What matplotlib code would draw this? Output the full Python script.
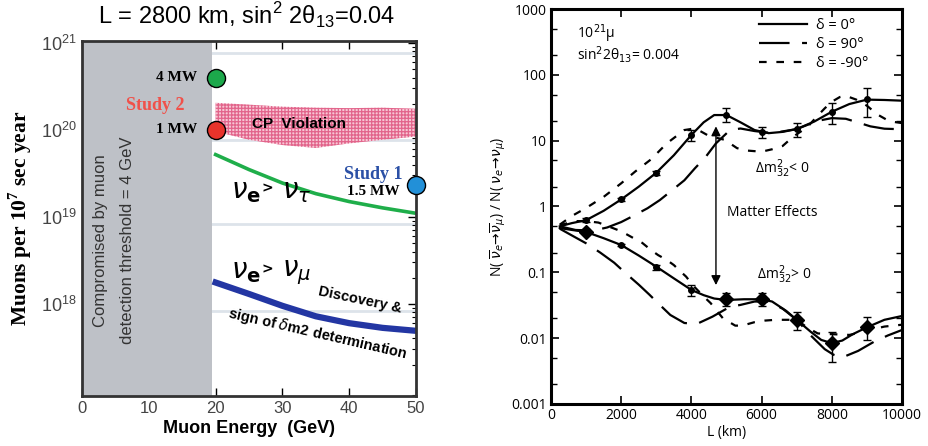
import matplotlib
matplotlib.use("Agg")
import matplotlib.pyplot as plt
from matplotlib.ticker import LogLocator, NullFormatter

plt.rcParams['lines.scale_dashes'] = False
plt.rcParams['hatch.linewidth'] = 0.9

# ---------------- left panel data ----------------
E_tau = [20, 25, 30, 35, 40, 45, 50]
N_tau = [5.2e19, 3.5e19, 2.45e19, 1.85e19, 1.5e19, 1.27e19, 1.1e19]
E_mu = [20, 25, 30, 35, 40, 45, 50]
N_mu = [1.76e18, 1.3e18, 0.95e18, 7.2e17, 6.0e17, 5.3e17, 4.9e17]
E_cp = [20, 25, 30, 35, 40, 45, 50]
N_cp_top = [2.05e20, 1.95e20, 1.85e20, 1.8e20, 1.78e20, 1.8e20, 1.75e20]
N_cp_bot = [0.96e20, 0.77e20, 0.67e20, 0.62e20, 0.70e20, 0.77e20, 0.84e20]
grid_N = [7.7e20, 7.7e19, 8.2e18, 8.2e17]
E_cut = 19.5
study_E = [20, 20, 50]
study_N = [4e20, 1e20, 2.3e19]
study_col = ['#1ca84b', '#e8332b', '#2290d8']

# ---------------- right panel data ----------------
L_up0 = [250, 600, 1000, 1500, 2000, 2500, 3000, 3500, 4000, 4350, 4650, 5000, 5400, 5800,
         6200, 6600, 7000, 7500, 8000, 8500, 9000, 9500, 10000]
R_up0 = [0.5, 0.56, 0.62, 0.86, 1.28, 2.0, 3.26, 6.0, 12.2, 19, 24.5, 24.5, 19, 14.5,
         13.0, 13.6, 15.0, 19.5, 27.5, 36, 42, 41.5, 40.5]
L_up90 = [250, 700, 1200, 1600, 2000, 2300, 2750, 3100, 3400, 3800, 4100, 4400, 4700, 5100,
          5400, 5800, 6300, 7000, 7600, 8000, 8400, 8800, 9100, 9500, 10000]
R_up90 = [0.5, 0.44, 0.43, 0.48, 0.58, 0.70, 0.94, 1.25, 1.68, 2.5, 3.8, 5.6, 9.1, 14.5,
          15.3, 14.0, 13.0, 15.0, 20.0, 22.0, 21.5, 18.5, 16.5, 15.2, 14.9]
L_upm90 = [250, 600, 1000, 1500, 2000, 2400, 2850, 3300, 3800, 4050, 4200, 4500, 4950, 5300,
           5550, 6000, 6300, 6600, 6850, 7000, 7300, 7600, 7800, 8000, 8230, 8400, 8700,
           9000, 9300, 9550, 9700, 10000]
R_upm90 = [0.53, 0.72, 0.95, 1.4, 2.25, 3.4, 5.2, 9.1, 14.5, 15.2, 14.5, 11.8, 10.3, 7.7,
           7.1, 6.8, 7.4, 8.3, 10.9, 12.5, 16, 24, 31, 39, 46, 48, 42,
           34, 25, 21, 19.5, 18.5]

L_lo0 = [250, 600, 1000, 1500, 2000, 2500, 3000, 3500, 4000, 4350, 4650, 5000, 5500, 6000,
         6300, 6700, 7000, 7400, 7700, 8000, 8300, 8600, 9000, 9500, 10000]
R_lo0 = [0.47, 0.44, 0.41, 0.33, 0.26, 0.18, 0.122, 0.081, 0.054, 0.045, 0.040, 0.038, 0.039,
         0.039, 0.036, 0.026, 0.019, 0.0125, 0.0094, 0.0084, 0.0092, 0.0115, 0.0146, 0.019, 0.0217]
L_lo90 = [250, 650, 1000, 1400, 1800, 2100, 2500, 2800, 3050, 3400, 3800, 4150, 4600, 5100,
          5400, 5800, 6200, 6600, 7000, 7400, 7800, 8050, 8300, 8750, 9200, 9600, 10000]
R_lo90 = [0.46, 0.35, 0.276, 0.2, 0.14, 0.1, 0.065, 0.046, 0.034, 0.0225, 0.017, 0.0164,
          0.0212, 0.030, 0.032, 0.036, 0.036, 0.028, 0.019, 0.011, 0.0068, 0.0056, 0.0051,
          0.0064, 0.0088, 0.011, 0.0133]
L_lom90 = [250, 700, 1000, 1350, 1550, 2000, 2400, 2600, 2850, 3050, 3300, 3500, 3700, 3850,
           4050, 4350, 4550, 4750, 4900, 5250, 5450, 5800, 6100, 6400, 6600, 7000, 7300, 7600,
           8000, 8500, 8700, 9000, 9500, 10000]
R_lom90 = [0.52, 0.6, 0.6, 0.57, 0.52, 0.42, 0.32, 0.28, 0.218, 0.183, 0.154, 0.129, 0.102,
           0.086, 0.063, 0.043, 0.034, 0.025, 0.020, 0.0155, 0.0155, 0.0175, 0.0185, 0.019,
           0.019, 0.019, 0.0145, 0.0118, 0.0115, 0.0112, 0.0118, 0.013, 0.015, 0.016]

# simulated measurements with errors
L_pts = [1000, 2000, 3000, 4000, 5000, 6000, 7000, 8000, 9000]
up_val = [0.62, 1.28, 3.26, 12.2, 24.5, 13.7, 15.0, 27.5, 42.5]
up_lo = [0.58, 1.22, 3.0, 9.8, 19.5, 10.9, 11.3, 17.9, 23]
up_hi = [0.66, 1.34, 3.5, 14.5, 31.5, 16.3, 18.8, 37.7, 62.5]
lo_val = [0.41, 0.26, 0.122, 0.054, 0.039, 0.039, 0.0189, 0.0084, 0.0146]
lo_lo = [0.38, 0.25, 0.11, 0.043, 0.0305, 0.031, 0.0131, 0.0043, 0.0095]
lo_hi = [0.45, 0.27, 0.13, 0.064, 0.048, 0.048, 0.0251, 0.0122, 0.0206]
big_diamond = [True, False, False, False, True, True, True, True, True]

fig = plt.figure(figsize=(9.29, 4.46), dpi=100)

# =============== left panel ===============
ax = fig.add_axes([0.0883, 0.1128, 0.3595, 0.7959])
ax.set_yscale('log')
ax.set_xlim(0, 50)
ax.set_ylim(8.8e16, 1.06e21)

for g in grid_N:
    ax.axhline(g, color='#dde3ea', lw=2, zorder=1)
ax.axvspan(0, E_cut, color='#bec1c7', zorder=2.6, lw=0)

ax.fill_between(E_cp, N_cp_bot, N_cp_top, facecolor='#f7c6d4', edgecolor='#e2648b',
                hatch='+++++', lw=0, zorder=2)
ax.plot(E_tau, N_tau, color='#1fae4a', lw=2.6, zorder=3)
ax.plot(E_mu, N_mu, color='#2336a3', lw=4.5, zorder=3)

for e, n, c in zip(study_E, study_N, study_col):
    ax.plot(e, n, 'o', ms=13, mfc=c, mec='black', mew=1, zorder=6, clip_on=False)

for s in ax.spines.values():
    s.set_color('#333333')
    s.set_linewidth(2)
    s.set_zorder(5)

ax.set_xticks([0, 10, 20, 30, 40, 50])
ax.set_xticklabels(['0', '10', '20', '30', '40', '50'], fontsize=12, color='#444444',
                   family='Liberation Sans')
ax.set_yticks([1e18, 1e19, 1e20, 1e21])
ax.set_yticklabels([r'$\mathregular{10^{18}}$', r'$\mathregular{10^{19}}$',
                    r'$\mathregular{10^{20}}$', r'$\mathregular{10^{21}}$'],
                   fontsize=13, color='#444444', family='Liberation Sans')
ax.tick_params(which='both', direction='in', left=False, right=True, top=True, bottom=True)
ax.tick_params(which='major', length=6, width=1, pad=4)
ax.tick_params(which='minor', length=3, width=0.8)
ax.yaxis.set_minor_locator(LogLocator(subs=(2, 3, 4, 5, 6, 7, 8, 9)))
ax.yaxis.set_minor_formatter(NullFormatter())

ax.set_xlabel('Muon Energy  (GeV)', fontsize=13, fontweight='bold',
              family='Liberation Sans', labelpad=3)
ax.set_ylabel(r'Muons per 10$^{\mathregular{7}}$ sec year', fontsize=15.5,
              fontweight='bold', family='Liberation Serif', labelpad=5)
fig.text(0.265, 0.965, r'L = 2800 km, sin$^{\mathregular{2}}$ 2θ$_{\mathregular{13}}$=0.04',
         fontsize=17, ha='center', va='center', family='Liberation Sans')

ax.text(2.8, 5.4e18, 'Compromised by muon', rotation=90, ha='center', va='center',
        fontsize=12, color='#333333', family='Liberation Sans', zorder=4)
ax.text(6.8, 5.4e18, 'detection threshold = 4 GeV', rotation=90, ha='center', va='center',
        fontsize=12, color='#333333', family='Liberation Sans', zorder=4)

ax.text(17.3, 4e20, '4 MW', ha='right', va='center', fontsize=11, fontweight='bold',
        family='Liberation Serif', zorder=4)
ax.text(10.9, 1.9e20, 'Study 2', ha='center', va='center', fontsize=13, fontweight='bold',
        color='#f0514a', family='Liberation Serif', zorder=4)
ax.text(17.3, 1e20, '1 MW', ha='right', va='center', fontsize=11, fontweight='bold',
        family='Liberation Serif', zorder=4)
ax.text(43.6, 3.1e19, 'Study 1', ha='center', va='center', fontsize=13, fontweight='bold',
        color='#2b50a6', family='Liberation Serif')
ax.text(43.6, 1.95e19, '1.5 MW', ha='center', va='center', fontsize=11, fontweight='bold',
        family='Liberation Serif')
ax.text(32.5, 1.17e20, 'CP  Violation', ha='center', va='center', fontsize=11,
        fontweight='bold', family='Liberation Sans')

ax.text(22.3, 2.0e19, r'$\nu_{\mathbf{e}}$', fontsize=20, va='center')
ax.text(26.8, 2.1e19, '>', fontsize=10, va='center', fontweight='bold')
ax.text(29.9, 2.0e19, r'$\nu_{\tau}$', fontsize=20, va='center')
ax.text(22.3, 2.4e18, r'$\nu_{\mathbf{e}}$', fontsize=20, va='center')
ax.text(26.8, 2.5e18, '>', fontsize=10, va='center', fontweight='bold')
ax.text(29.9, 2.3e18, r'$\nu_{\mu}$', fontsize=20, va='center')
ax.text(41.6, 1.1e18, 'Discovery &', rotation=-12, ha='center', va='center', fontsize=10.5,
        fontweight='bold', family='Liberation Sans')
ax.text(35.3, 4.6e17, r'sign of $\delta$m2 determination', rotation=-13, ha='center',
        va='center', fontsize=10.5, fontweight='bold', family='Liberation Sans')

# =============== right panel ===============
bx = fig.add_axes([0.5931, 0.0942, 0.3778, 0.8856])
bx.set_yscale('log')
bx.set_xlim(0, 10000)
bx.set_ylim(0.001, 1000)

lw = 1.6
sty0 = dict(color='black', lw=lw, ls='-')
sty90 = dict(color='black', lw=lw, dashes=(22, 9))
stym90 = dict(color='black', lw=lw, dashes=(5.5, 7))

l0, = bx.plot(L_up0, R_up0, **sty0)
l90, = bx.plot(L_up90, R_up90, **sty90)
lm90, = bx.plot(L_upm90, R_upm90, **stym90)
bx.plot(L_lo0, R_lo0, **sty0)
bx.plot(L_lo90, R_lo90, **sty90)
bx.plot(L_lom90, R_lom90, **stym90)

up_err = [[v - lo for v, lo in zip(up_val, up_lo)], [hi - v for v, hi in zip(up_val, up_hi)]]
lo_err = [[v - lo for v, lo in zip(lo_val, lo_lo)], [hi - v for v, hi in zip(lo_val, lo_hi)]]
bx.errorbar(L_pts, up_val, yerr=up_err, fmt='o', ms=4, color='black', ecolor='black',
            elinewidth=1, capsize=3, capthick=1)
bx.errorbar(L_pts, lo_val, yerr=lo_err, fmt='none', ecolor='black', elinewidth=1,
            capsize=3, capthick=1)
for x, y, big in zip(L_pts, lo_val, big_diamond):
    bx.plot(x, y, 'D' if big else 'o', ms=7 if big else 4, color='black')

bx.annotate('', xy=(4700, 16.5), xytext=(4700, 0.064),
            arrowprops=dict(arrowstyle='<|-|>', color='black', lw=1, mutation_scale=14,
                            shrinkA=0, shrinkB=0))

tf = dict(family='Open Sans', fontsize=10)
bx.text(6300, 0.8, 'Matter Effects', ha='center', va='center', **tf)
bx.text(6600, 3.8, r'Δm$^2_{32}$< 0', ha='center', va='center', **tf)
bx.text(6650, 0.092, r'Δm$^2_{32}$> 0', ha='center', va='center', **tf)
bx.text(730, 420, r'10$^{21}$μ', ha='left', va='center', **tf)
bx.text(730, 205, r'sin$^2$2θ$_{13}$= 0.004', ha='left', va='center', **tf)

leg = bx.legend([l0, l90, lm90], ['δ = 0°', 'δ = 90°', 'δ = -90°'],
                loc='upper left', bbox_to_anchor=(0.555, 1.01), frameon=False,
                handlelength=3.3, handletextpad=0.6, labelspacing=0.28,
                prop={'family': 'Open Sans', 'size': 10.5})

for s in bx.spines.values():
    s.set_linewidth(2.2)
bx.set_xticks([0, 2000, 4000, 6000, 8000, 10000])
bx.set_xticklabels(['0', '2000', '4000', '6000', '8000', '10000'], **tf)
bx.set_yticks([0.001, 0.01, 0.1, 1, 10, 100, 1000])
bx.set_yticklabels(['0.001', '0.01', '0.1', '1', '10', '100', '1000'], **tf)
bx.yaxis.set_minor_locator(LogLocator(subs=(2, 5)))
bx.yaxis.set_minor_formatter(NullFormatter())
bx.tick_params(which='both', direction='in', left=True, right=True, top=True, bottom=True)
bx.tick_params(which='major', length=6, width=1.2, pad=3)
bx.tick_params(which='minor', length=4, width=1)
bx.set_xlabel('L (km)', labelpad=1, **tf)
bx.set_ylabel(r'N( $\overline{\nu}_{e}\!\rightarrow\!\overline{\nu}_{\mu}$) / '
              r'N( $\nu_{e}\!\rightarrow\!\nu_{\mu}$)', labelpad=2, **tf)

fig.savefig('out.png', dpi=100)
